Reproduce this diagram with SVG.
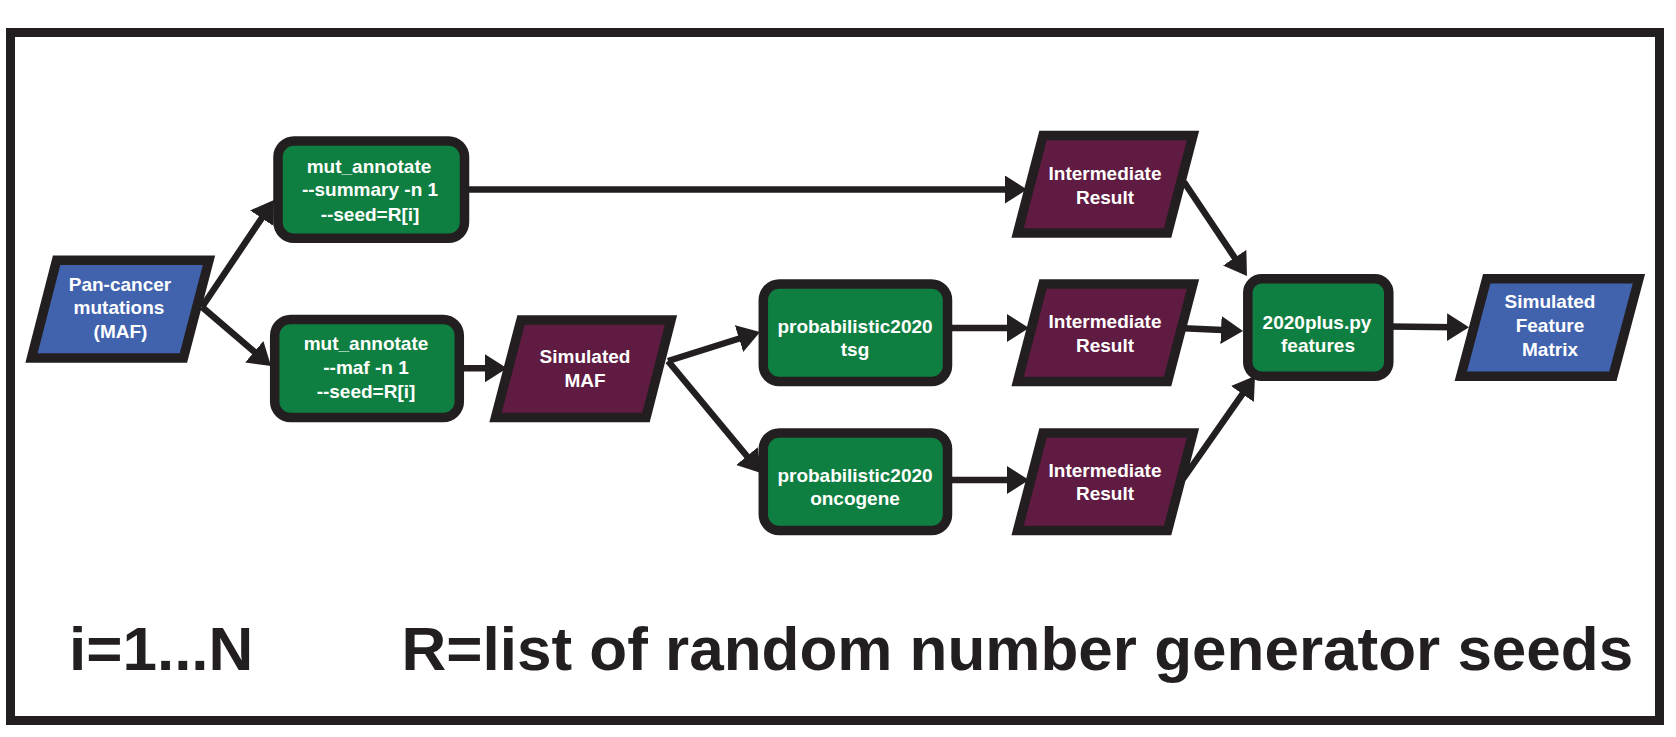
<svg xmlns="http://www.w3.org/2000/svg" width="1676" height="737" viewBox="0 0 1676 737">
<defs>
<marker id="ah" markerUnits="userSpaceOnUse" markerWidth="24" markerHeight="30" refX="7" refY="14" orient="auto" viewBox="0 0 24 30">
<path d="M0,0 L22,14 L0,28 z" fill="#231f20"/>
</marker>
<style>
.proc{fill:#0f7f41;stroke:#231f20;stroke-width:9.5}
.data{fill:#5f1b41;stroke:#231f20;stroke-width:9.5}
.io{fill:#4163ae;stroke:#231f20;stroke-width:9.5}
.lbl{font-family:"Liberation Sans",Arial,sans-serif;font-weight:bold;font-size:19px;fill:#ffffff;text-anchor:middle}
.big{font-family:"Liberation Sans",Arial,sans-serif;font-weight:bold;font-size:62px;fill:#231f20}
.conn line{stroke:#231f20;stroke-width:6.5;marker-end:url(#ah)}
</style>
</defs>
<rect x="0" y="0" width="1676" height="737" fill="#ffffff"/>
<rect id="frame" x="10.5" y="32.5" width="1649" height="688" fill="none" stroke="#231f20" stroke-width="9"/>

<g id="connectors" class="conn">
<line x1="202" y1="307" x2="265.6" y2="212.4"/>
<line x1="202" y1="307" x2="259.6" y2="356.3"/>
<line x1="464" y1="189.5" x2="1012" y2="189.5"/>
<line x1="459" y1="368.3" x2="492" y2="368.3"/>
<line x1="668" y1="361" x2="745.7" y2="336.5"/>
<line x1="668" y1="361" x2="751.4" y2="461.5"/>
<line x1="947.5" y1="328" x2="1014" y2="328"/>
<line x1="947.5" y1="480" x2="1014" y2="480"/>
<line x1="1184" y1="182" x2="1238.6" y2="263.5"/>
<line x1="1178" y1="328" x2="1228" y2="330.3"/>
<line x1="1183" y1="479" x2="1246.4" y2="388.3"/>
<line x1="1388.8" y1="326.5" x2="1454" y2="327.2"/>
</g>

<g id="pan_cancer">
<polygon class="io" points="56.6,260.2 209,260.2 183.4,358 31.5,358"/>
<text class="lbl" x="120" y="291">Pan-cancer</text>
<text class="lbl" x="119" y="314.3">mutations</text>
<text class="lbl" x="120.5" y="337.7">(MAF)</text>
</g>

<g id="mut_annotate_summary">
<rect class="proc" x="278" y="141" width="186.5" height="97.3" rx="16"/>
<text class="lbl" x="369" y="172.7">mut_annotate</text>
<text class="lbl" x="370" y="196.3">--summary -n 1</text>
<text class="lbl" x="370" y="220.5">--seed=R[i]</text>
</g>

<g id="mut_annotate_maf">
<rect class="proc" x="274.7" y="319.5" width="184.6" height="98" rx="16"/>
<text class="lbl" x="366" y="350">mut_annotate</text>
<text class="lbl" x="366" y="374">--maf -n 1</text>
<text class="lbl" x="366" y="398">--seed=R[i]</text>
</g>

<g id="simulated_maf">
<polygon class="data" points="521,320 671,320 646,417.5 495.5,417.5"/>
<text class="lbl" x="585" y="363.3">Simulated</text>
<text class="lbl" x="585" y="386.7">MAF</text>
</g>

<g id="prob_tsg">
<rect class="proc" x="763.3" y="284" width="184.2" height="97.5" rx="16"/>
<text class="lbl" x="855" y="333">probabilistic2020</text>
<text class="lbl" x="855" y="356">tsg</text>
</g>

<g id="prob_oncogene">
<rect class="proc" x="763.3" y="433" width="184.2" height="97.5" rx="16"/>
<text class="lbl" x="855" y="481.5">probabilistic2020</text>
<text class="lbl" x="855" y="504.5">oncogene</text>
</g>

<g id="intermediate_1">
<polygon class="data" points="1043,135.5 1193,135.5 1167.6,233 1017.6,233"/>
<text class="lbl" x="1105" y="180">Intermediate</text>
<text class="lbl" x="1105" y="204">Result</text>
</g>

<g id="intermediate_2">
<polygon class="data" points="1043,284 1193,284 1167.6,381.5 1017.6,381.5"/>
<text class="lbl" x="1105" y="328.3">Intermediate</text>
<text class="lbl" x="1105" y="351.7">Result</text>
</g>

<g id="intermediate_3">
<polygon class="data" points="1043,433 1193,433 1167.6,530.5 1017.6,530.5"/>
<text class="lbl" x="1105" y="476.7">Intermediate</text>
<text class="lbl" x="1105" y="500">Result</text>
</g>

<g id="features_2020plus">
<rect class="proc" x="1247.8" y="278.8" width="141" height="97.4" rx="14"/>
<text class="lbl" x="1317" y="329">2020plus.py</text>
<text class="lbl" x="1318" y="351.7">features</text>
</g>

<g id="simulated_feature_matrix">
<polygon class="io" points="1486.7,278.8 1638.9,278.8 1612.9,376.2 1460.8,376.2"/>
<text class="lbl" x="1550" y="308.3">Simulated</text>
<text class="lbl" x="1550" y="331.7">Feature</text>
<text class="lbl" x="1550" y="356">Matrix</text>
</g>

<g id="legend">
<text class="big" x="69" y="669.7">i=1...N</text>
<text class="big" x="401.5" y="669.7">R=list of random number generator seeds</text>
</g>
</svg>
